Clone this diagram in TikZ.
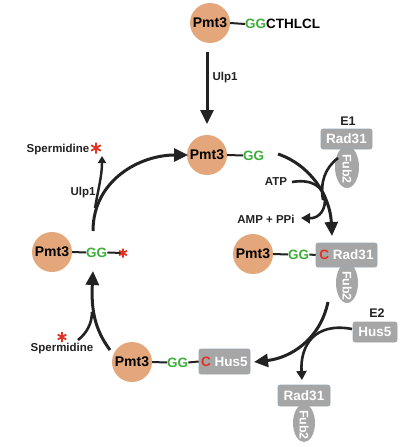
\documentclass[tikz,border=0pt]{standalone}
\usepackage{fontspec}
\setmainfont{Liberation Sans}
\usetikzlibrary{arrows.meta,shapes.geometric}
\definecolor{pmt}{HTML}{E4A77B}
\definecolor{gbox}{HTML}{A6A6A6}
\definecolor{gedge}{HTML}{9AA6B2}
\definecolor{ggreen}{HTML}{3DAE3A}
\definecolor{cred}{HTML}{E03324}
\definecolor{ink}{HTML}{222222}
\tikzset{
  pmtnode/.style={circle, fill=pmt, minimum size=40pt, inner sep=0pt, text=black, font=\bfseries\fontsize{14}{14}\selectfont},
  seqtxt/.style={inner sep=0pt, anchor=west, text=black, font=\bfseries\fontsize{13.5}{13.5}\selectfont},
  lbl/.style={inner sep=0pt, text=ink, font=\bfseries\fontsize{11.5}{11.5}\selectfont},
  elbl/.style={inner sep=0pt, text=ink, font=\bfseries\fontsize{12.5}{12.5}\selectfont},
  enzbox/.style={rectangle, rounded corners=2pt, fill=gbox, draw=gedge, line width=0.6pt, inner sep=0pt, text=white, font=\bfseries\fontsize{13.5}{13.5}\selectfont},
  fubnode/.style={ellipse, fill=gbox, inner sep=0pt},
  fubtxt/.style={inner sep=0pt, rotate=-90, text=white, font=\bfseries\fontsize{12.5}{12.5}\selectfont},
  bond/.style={line width=2pt, draw=ink},
  bigarrow/.style={line width=3pt, draw=ink, -{Triangle[length=14pt,width=13pt]}},
  midarrow/.style={line width=2.6pt, draw=ink, -{Triangle[length=9pt,width=10pt]}},
  smallarrow/.style={line width=2.4pt, draw=ink, -{Triangle[length=7pt,width=8pt]}},
  plainline/.style={line width=2.6pt, draw=ink},
  astk/.style={line width=1.8pt, draw=cred},
}
\begin{document}
\begin{tikzpicture}[x=1pt,y=-1pt]
\useasboundingbox (0,0) rectangle (412,447);

% ---------- top row ----------
\node[pmtnode] (p1) at (210,23) {Pmt3};
\node[seqtxt] (s1) at (245,24) {\textcolor{ggreen}{GG}CTHLCL};
\draw[bond] (p1.east) -- (s1.west);

\coordinate (a1s) at (207,52);
\coordinate (a1e) at (207,124);
\draw[bigarrow] (a1s) -- (a1e);
\node[lbl] (u1) at (225,78) {Ulp1};

% ---------- second row ----------
\node[pmtnode] (p2) at (207,155) {Pmt3};
\node[seqtxt] (s2) at (243,155.5) {\textcolor{ggreen}{GG}};
\draw[bond] (p2.east) -- (s2.west);

% E1 complex
\node[elbl] (e1) at (348,121) {E1};
\node[fubnode, minimum width=24pt, minimum height=42pt] (f1) at (347,167) {};
\node[fubtxt] (f1t) at (347,169) {Fub2};
\node[enzbox, minimum width=51pt, minimum height=20pt] (r1) at (346.5,139) {Rad31};

% ---------- third row ----------
\node[pmtnode] (p3) at (253,254) {Pmt3};
\node[seqtxt] (s3) at (288,254.5) {\textcolor{ggreen}{GG}};
\draw[bond] (p3.east) -- (s3.west);
\node[fubnode, minimum width=22pt, minimum height=40pt] (f2) at (347,283) {};
\node[fubtxt] (f2t) at (347,286) {Fub2};
\node[enzbox, minimum width=61pt, minimum height=24pt] (r2) at (346.5,255) {\textcolor{cred}{C} Rad31};
\draw[bond] (s3.east) -- (r2.west);

% main arrow GG -> C-Rad31
\coordinate (m1s) at (278,154);
\coordinate (m1e) at (332,236);
\draw[bigarrow] (m1s) .. controls (310,165) and (330,195) .. (m1e);

% ATP -> AMP + PPi, joined by E1 line
\node[lbl] (atp) at (276,182) {ATP};
\node[lbl] (amp) at (266,219) {AMP + PPi};
\coordinate (atps) at (292,182);
\coordinate (ampe) at (301,218);
\coordinate (e1s) at (338,158);
\coordinate (e1m) at (323,200);
\draw[midarrow] (atps) .. controls (334,175) and (331,219) .. (ampe);
\draw[plainline] (e1s) .. controls (325,168) and (320,182) .. (e1m);

% ---------- E2 ----------
\node[elbl] (e2) at (377,313) {E2};
\node[enzbox, minimum width=44pt, minimum height=20pt] (h1) at (375,332) {Hus5};

% bottom Rad31/Fub2
\node[fubnode, minimum width=22pt, minimum height=38pt] (f3) at (304,423) {};
\node[fubtxt] (f3t) at (304,425) {Fub2};
\node[enzbox, minimum width=52pt, minimum height=21pt] (r3) at (304,395.5) {Rad31};

% ---------- bottom row ----------
\node[pmtnode] (p5) at (132,362) {Pmt3};
\node[seqtxt] (s5) at (167,362.5) {\textcolor{ggreen}{GG}};
\draw[bond] (p5.east) -- (s5.west);
\node[enzbox, minimum width=51pt, minimum height=25pt] (h2) at (224.5,361.5) {\textcolor{cred}{C} Hus5};
\draw[bond] (s5.east) -- (h2.west);

% main arrow C-Rad31 -> C-Hus5
\coordinate (m2s) at (328,302);
\coordinate (m2e) at (254,362);
\draw[bigarrow] (m2s) .. controls (320,340) and (290,358) .. (m2e);
% Hus5 -> Rad31 release
\coordinate (h1s) at (352,329);
\coordinate (h1e) at (302,380);
\draw[midarrow] (h1s) .. controls (315,322) and (300,345) .. (h1e);

% ---------- left ----------
\node[pmtnode] (p4) at (52,252) {Pmt3};
\node[seqtxt] (s4) at (86,252.5) {\textcolor{ggreen}{GG}};
\draw[bond] (p4.east) -- (s4.west);
\coordinate (ast0) at (123,253);
\draw[bond] (s4.east) -- (ast0);
\draw[astk] ([shift={(0,-4.5)}]ast0) -- ([shift={(0,4.5)}]ast0)
            ([shift={(-3.9,-2.25)}]ast0) -- ([shift={(3.9,2.25)}]ast0)
            ([shift={(-3.9,2.25)}]ast0) -- ([shift={(3.9,-2.25)}]ast0);

% bottom-left arrow: C-Hus5 complex -> Pmt3-GG-*
\coordinate (m3s) at (110,350);
\coordinate (m3e) at (93,271);
\draw[bigarrow] (m3s) .. controls (95,330) and (91,310) .. (m3e);
\node[lbl] (sp2) at (62,348.5) {Spermidine};
\coordinate (ast2) at (62,337);
\draw[astk] ([shift={(0,-5)}]ast2) -- ([shift={(0,5)}]ast2)
            ([shift={(-4.3,-2.5)}]ast2) -- ([shift={(4.3,2.5)}]ast2)
            ([shift={(-4.3,2.5)}]ast2) -- ([shift={(4.3,-2.5)}]ast2);
\coordinate (sp2s) at (78,340);
\coordinate (sp2e) at (92,312);
\draw[plainline] (sp2s) .. controls (87,333) and (92,323) .. (sp2e);

% left arrow: Pmt3-GG-* -> Pmt3-GG
\coordinate (m4s) at (93,231);
\coordinate (m4e) at (188,155);
\draw[bigarrow] (m4s) .. controls (93,180) and (140,155) .. (m4e);
\node[lbl] (u2) at (83,193) {Ulp1};
\coordinate (sp1s) at (95,208);
\coordinate (sp1e) at (102,156);
\draw[smallarrow] (sp1s) .. controls (98,190) and (102,176) .. (sp1e);
\node[lbl] (sp1) at (58,149.5) {Spermidine};
\coordinate (ast1) at (96,148);
\draw[astk] ([shift={(0,-5.5)}]ast1) -- ([shift={(0,5.5)}]ast1)
            ([shift={(-4.8,-2.75)}]ast1) -- ([shift={(4.8,2.75)}]ast1)
            ([shift={(-4.8,2.75)}]ast1) -- ([shift={(4.8,-2.75)}]ast1);
\end{tikzpicture}
\end{document}
